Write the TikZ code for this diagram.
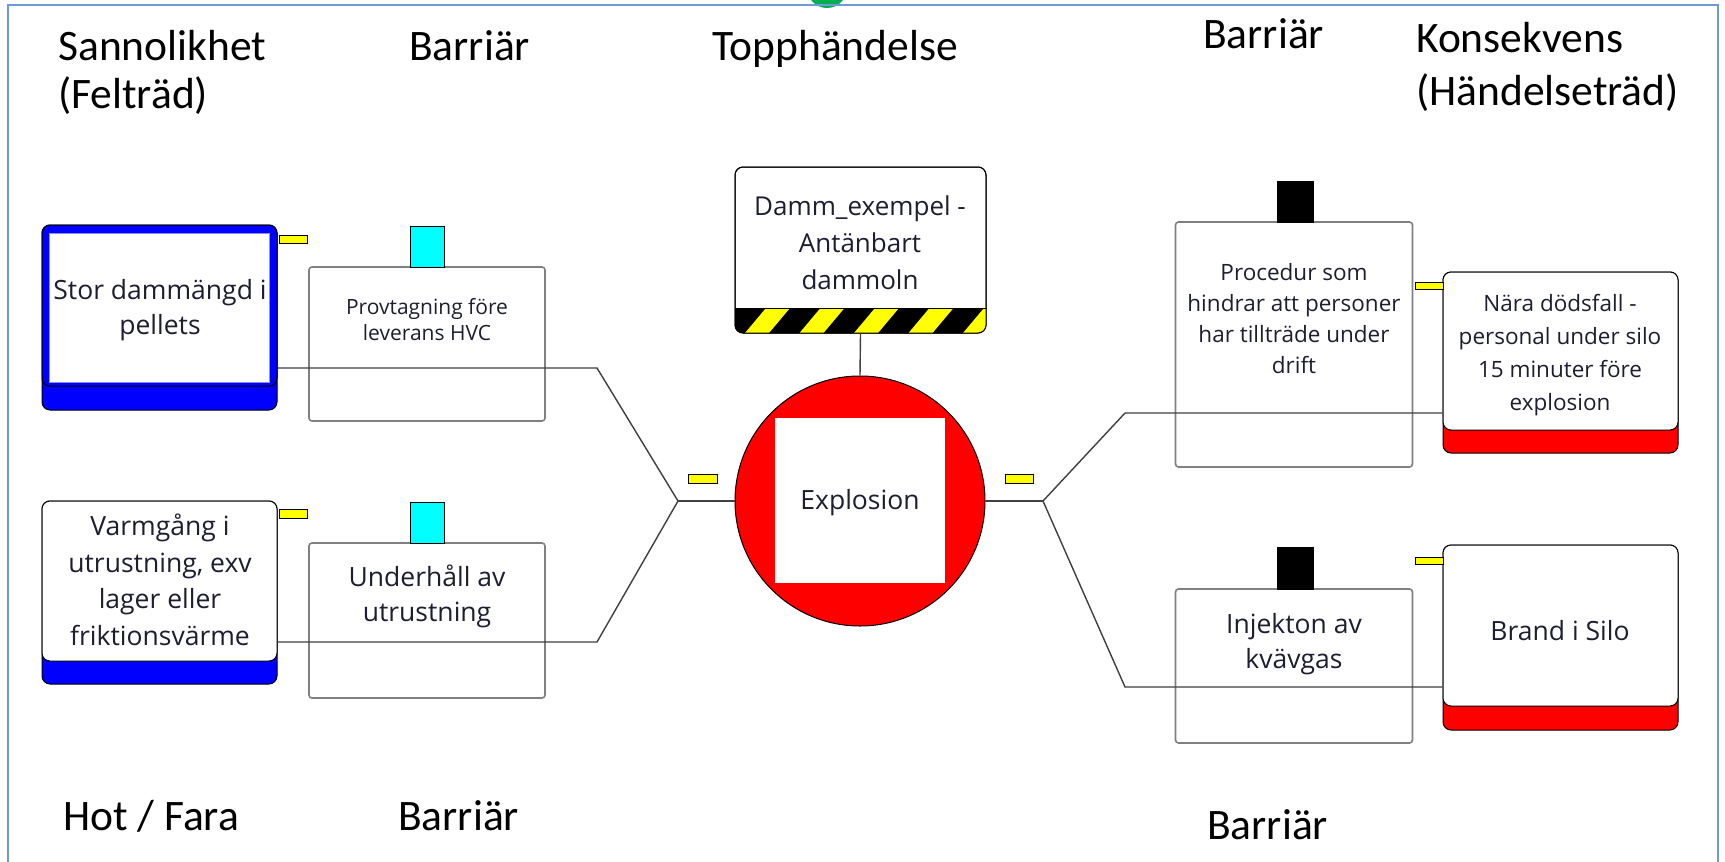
\documentclass[tikz,border=0pt]{standalone}
\usepackage{fontspec}
\setmainfont{Open Sans}
\newfontfamily\headfont{Carlito}
\definecolor{frameblue}{HTML}{6F9AD8}
\definecolor{boxblue}{HTML}{0000FF}
\definecolor{boxred}{HTML}{FF0000}
\definecolor{tabyellow}{HTML}{FFFF00}
\definecolor{tabcyan}{HTML}{00FFFF}
\definecolor{barrgray}{HTML}{808080}
\definecolor{linegray}{HTML}{404040}
\definecolor{txt}{HTML}{1E1E32}
\definecolor{handlegreen}{HTML}{00B050}
\newcommand\txtL{\fontsize{26.5}{36.5}\selectfont}
\newcommand\txtLL{\fontsize{26.5}{35}\selectfont}
\newcommand\txtM{\fontsize{22.5}{31}\selectfont}
\newcommand\txtMM{\fontsize{22.5}{33}\selectfont}
\newcommand\txtS{\fontsize{21}{26}\selectfont}
\newcommand\txtD{\fontsize{26}{37}\selectfont}
\begin{document}
\begin{tikzpicture}[x=1pt,y=-1pt,
  conn/.style={draw=linegray, line width=1.4pt},
  tabshape/.style={draw=black, line width=0.8pt},
  barrbox/.style={draw=barrgray, fill=white, line width=1.6pt, rounded corners=3pt, inner sep=0pt},
  eventbox/.style={draw=black, line width=1pt, rounded corners=8pt, inner sep=0pt},
  upper/.style={draw=black, line width=1pt, rounded corners=8pt, fill=white},
  boxtext/.style={text=txt, align=center, inner sep=0pt},
  head/.style={font=\headfont\fontsize{43.5}{48}\selectfont, anchor=base west, inner sep=0pt, align=left}]
\useasboundingbox (0,0) rectangle (1725,862);
\fill[white] (0,0) rectangle (1725,862);

% selection handle and page frame
\fill[handlegreen] (827,-12) circle[radius=20pt];
\draw[frameblue, line width=1.5pt] (8,5) rectangle (1718,880);

% column headings (base anchor sits on the last line)
\node[head] (hProb) at (58,108) {Sannolikhet\\(Felträd)};
\node[head] (hBarTL) at (409,60) {Barriär};
\node[head] (hTop) at (712,60) {Topphändelse};
\node[head] (hBarTR) at (1203,48) {Barriär};
\node[head, font=\headfont\fontsize{43.5}{53}\selectfont] (hCons) at (1416,105) {Konsekvens\\(Händelseträd)};
\node[head] (hThreat) at (63,830) {Hot / Fara};
\node[head] (hBarBL) at (398,830) {Barriär};
\node[head] (hBarBR) at (1207,839) {Barriär};

% threats (blue band)
\node[eventbox, fill=boxblue, minimum width=235pt, minimum height=185pt] (thr1) at (159.5,317.5) {};
\draw[upper, fill=boxblue] (42,225) rectangle (277,386);
\draw[fill=white, draw=boxblue!45, line width=0.6pt] (49.5,233) rectangle (269,382);
\node[boxtext, font=\txtLL] (thr1t) at (160,310) {Stor dammängd i\\pellets};

\node[eventbox, fill=boxblue, minimum width=235pt, minimum height=183pt] (thr2) at (159.5,592.5) {};
\draw[upper] (42,501) rectangle (277,661);
\node[boxtext, font=\txtL] (thr2t) at (160,580) {Varmgång i\\utrustning, exv\\lager eller\\friktionsvärme};

% consequences (red band)
\node[eventbox, fill=boxred, minimum width=235pt, minimum height=181pt] (cons1) at (1560.5,362.5) {};
\draw[upper] (1443,272) rectangle (1678,430);
\node[boxtext, font=\txtMM] (cons1t) at (1560,355) {Nära dödsfall -\\personal under silo\\15 minuter före\\explosion};

\node[eventbox, fill=boxred, minimum width=235pt, minimum height=185pt] (cons2) at (1560.5,637.5) {};
\draw[upper] (1443,545) rectangle (1678,706);
\node[boxtext, font=\txtL] (cons2t) at (1560,631) {Brand i Silo};

% barriers
\node[barrbox, minimum width=236pt, minimum height=154pt] (bar1) at (427,344) {};
\draw[tabshape, fill=tabcyan] (410,226) rectangle (444,267);
\node[boxtext, font=\txtS] (bar1t) at (427,320) {Provtagning före\\leverans HVC};

\node[barrbox, minimum width=236pt, minimum height=155pt] (bar2) at (427,620.5) {};
\draw[tabshape, fill=tabcyan] (410,502) rectangle (444,543);
\node[boxtext, font=\txtLL] (bar2t) at (427,596) {Underhåll av\\utrustning};

\node[barrbox, minimum width=237pt, minimum height=245pt] (bar3) at (1294,344.5) {};
\draw[tabshape, fill=black] (1277,181) rectangle (1313,222);
\node[boxtext, font=\txtM] (bar3t) at (1294,319) {Procedur som\\hindrar att personer\\har tillträde under\\drift};

\node[barrbox, minimum width=237pt, minimum height=154pt] (bar4) at (1294,666) {};
\draw[tabshape, fill=black] (1277,547) rectangle (1313,589);
\node[boxtext, font=\txtLL] (bar4t) at (1294,644) {Injekton av\\kvävgas};

% hazard with striped band
\node[eventbox, fill=white, minimum width=251pt, minimum height=166pt] (haz) at (860.5,250) {};
\begin{scope}
  \clip[rounded corners=8pt] (735,167) rectangle (986,333);
  \fill[black] (735,308) rectangle (986,333);
  \foreach \k in {-1,...,4}
    \fill[tabyellow] (745+54.5*\k,333) -- (769+54.5*\k,333) -- (790+54.5*\k,308) -- (766+54.5*\k,308) -- cycle;
\end{scope}
\draw[black, line width=1pt, rounded corners=8pt] (735,167) rectangle (986,333);
\draw[black, line width=0.8pt] (735,308) -- (986,308);
\node[boxtext, font=\txtD] (hazt) at (860,243) {Damm\_exempel -\\Antänbart\\dammoln};

% top event
\node[circle, draw=black, line width=1pt, fill=boxred, minimum size=250pt, inner sep=0pt] (top) at (860,501) {};
\fill[white] (775,418) rectangle (945,583);
\node[boxtext, font=\txtL] (topt) at (860,503) {Explosion};

% small yellow tabs
\draw[tabshape, fill=tabyellow] (279,235) rectangle (307,243);
\draw[tabshape, fill=tabyellow] (279,509) rectangle (307,518);
\draw[tabshape, fill=tabyellow] (688,474) rectangle (717,483);
\draw[tabshape, fill=tabyellow] (1005,474) rectangle (1033,483);
\draw[tabshape, fill=tabyellow] (1415,282) rectangle (1443,289);
\draw[tabshape, fill=tabyellow] (1415,557) rectangle (1443,564);

% connectors
\coordinate (jL) at (678,501);
\coordinate (jR) at (1043,501);
\coordinate (bL1) at (597,368);
\coordinate (bL2) at (597,642);
\coordinate (bR1) at (1125,413);
\coordinate (bR2) at (1125,687);
\draw[conn] (thr1.east |- bL1) -- (bL1) -- (jL);
\draw[conn] (thr2.east |- bL2) -- (bL2) -- (jL);
\draw[conn] (jL) -- (top.west);
\draw[conn] (top.east) -- (jR);
\draw[conn] (jR) -- (bR1) -- (cons1.west |- bR1);
\draw[conn] (jR) -- (bR2) -- (cons2.west |- bR2);
\draw[conn] (haz.south) -- (top.north);
\end{tikzpicture}
\end{document}
